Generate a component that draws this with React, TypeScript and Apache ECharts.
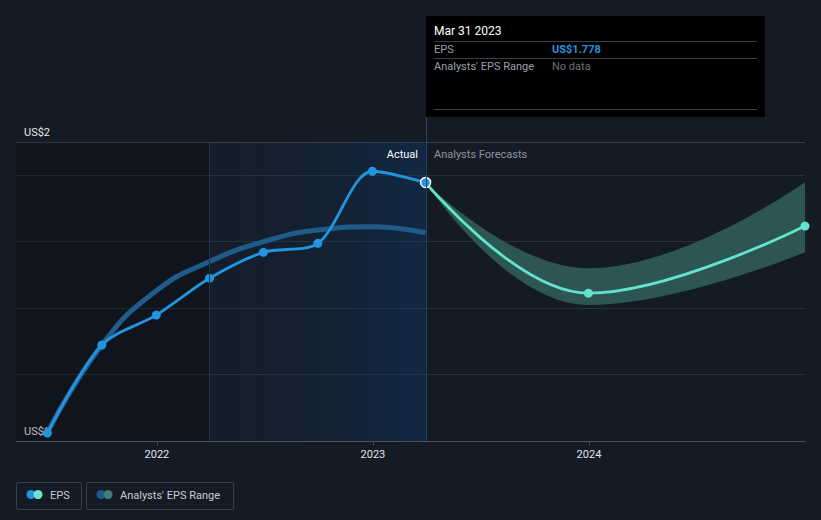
import React, { useEffect, useRef } from "react";
import * as echarts from "echarts";

const epsDates = ["2021-06-30", "2021-09-30", "2021-12-31", "2022-03-31", "2022-06-30", "2022-09-30", "2022-12-31", "2023-03-31"];
const epsValues = [1.024, 1.289, 1.379, 1.49, 1.568, 1.595, 1.812, 1.778];
const consensusValues = [1.024, 1.289, 1.452, 1.54, 1.6, 1.635, 1.645, 1.627];
const forecastDates = ["2023-03-31", "2023-12-31", "2024-12-31"];
const forecastValues = [1.778, 1.445, 1.647];
const forecastLow = [1.778, 1.409, 1.568];
const forecastHigh = [1.778, 1.52, 1.779];
const xMin = "2021-05-08";
const xMax = "2024-12-31";
const pastStart = "2022-03-31";
const tooltipTitle = "Mar 31 2023";
const legendNames = ["EPS", "Analysts' EPS Range"];

const FONT = "Roboto, 'Noto Sans', sans-serif";

export default function App() {
  const ref = useRef<HTMLDivElement>(null);
  useEffect(() => {
    document.body.style.margin = "0";
    const chart = echarts.init(ref.current!, null, { renderer: "svg" });
    const lastDate = epsDates[epsDates.length - 1];
    const lastVal = epsValues[epsValues.length - 1];
    chart.setOption({
      animation: false,
      backgroundColor: "#151b25",
      grid: { left: 16, right: 16, top: 142, bottom: 79 },
      xAxis: {
        type: "time",
        min: xMin,
        max: xMax,
        minInterval: 365 * 86400000,
        maxInterval: 366 * 86400000,
        axisLine: { lineStyle: { color: "#4b515a", width: 1 } },
        axisTick: { show: true, length: 4, lineStyle: { color: "#4b515a" } },
        splitLine: { show: false },
        axisLabel: {
          color: "#e2e4e8",
          fontSize: 11,
          fontFamily: FONT,
          margin: 8,
          formatter: (v: number) => {
            const d = new Date(v);
            return d.getMonth() === 0 && d.getDate() === 1 ? String(d.getFullYear()) : "";
          },
        },
      },
      yAxis: {
        type: "value",
        min: 1,
        max: 1.9,
        interval: 0.2,
        axisLine: { show: false },
        axisTick: { show: false },
        splitLine: {
          lineStyle: { color: ["#2a3039", "#2a3039", "#2a3039", "#2a3039", "#2a3039", "#3b4048"], width: 1 },
        },
        axisLabel: {
          inside: true,
          margin: 8,
          showMinLabel: true,
          showMaxLabel: true,
          verticalAlign: "bottom",
          padding: [0, 0, 4, 0],
          color: "#e6e8ec",
          fontSize: 11,
          fontFamily: FONT,
          formatter: (v: number) => (v > 1.85 ? "US$2" : v < 1.05 ? "US$1" : ""),
        },
      },
      series: [
        {
          type: "line",
          name: "bg",
          silent: true,
          data: epsDates.map((d, i) => [d, epsValues[i]]),
          symbol: "none",
          lineStyle: { opacity: 0 },
          z: 0,
          markArea: {
            silent: true,
            data: [
              [{ xAxis: xMin, itemStyle: { color: "rgba(0,0,0,0.2)" } }, { xAxis: pastStart }],
              [
                {
                  xAxis: pastStart,
                  itemStyle: {
                    color: new echarts.graphic.LinearGradient(0, 0, 1, 0, [
                      { offset: 0, color: "rgba(12,60,110,0.06)" },
                      { offset: 0.6, color: "rgba(12,60,110,0.2)" },
                      { offset: 1, color: "rgba(12,60,110,0.42)" },
                    ]),
                  },
                },
                { xAxis: lastDate },
              ],
            ],
          },
          markLine: {
            silent: true,
            symbol: "none",
            label: { show: false },
            lineStyle: { color: "#1b3550", type: "solid", width: 1 },
            data: [{ xAxis: pastStart }],
          },
        },
        {
          type: "line",
          name: "low",
          stack: "band",
          silent: true,
          data: forecastDates.map((d, i) => [d, forecastLow[i]]),
          smooth: 0.45,
          symbol: "none",
          lineStyle: { opacity: 0 },
          z: 1,
        },
        {
          type: "line",
          name: legendNames[1],
          stack: "band",
          silent: true,
          data: forecastDates.map((d, i) => [d, forecastHigh[i] - forecastLow[i]]),
          smooth: 0.45,
          symbol: "none",
          lineStyle: { opacity: 0 },
          areaStyle: { color: "#2c5554", opacity: 1 },
          z: 1,
        },
        {
          type: "line",
          name: "consensus",
          silent: true,
          data: epsDates.map((d, i) => [d, consensusValues[i]]),
          smooth: 0.5,
          symbol: "none",
          lineStyle: { color: "#1f5c8a", width: 5 },
          z: 2,
        },
        {
          type: "line",
          name: "forecast",
          data: forecastDates.map((d, i) => ({
            value: [d, forecastValues[i]],
            symbolSize: i === 0 ? 0 : 9,
          })),
          smooth: 0.4,
          symbol: "circle",
          showAllSymbol: true,
          lineStyle: { color: "#63e2cd", width: 2.8 },
          itemStyle: { color: "#63e2cd" },
          z: 3,
        },
        {
          type: "line",
          name: legendNames[0],
          data: epsDates.map((d, i) =>
            i === epsDates.length - 1
              ? { value: [d, epsValues[i]], symbolSize: 10, itemStyle: { color: "#2394df", borderColor: "#ffffff", borderWidth: 1.5 } }
              : { value: [d, epsValues[i]] }
          ),
          smooth: 0.3,
          symbol: "circle",
          symbolSize: 9,
          showAllSymbol: true,
          lineStyle: { color: "#2394df", width: 2.8 },
          itemStyle: { color: "#2394df" },
          z: 4,
        },
      ],
    });

    const [lx] = chart.convertToPixel({ gridIndex: 0 }, [lastDate, lastVal]) as number[];
    const [, topY] = chart.convertToPixel({ gridIndex: 0 }, [lastDate, 1.9]) as number[];
    const [, botY] = chart.convertToPixel({ gridIndex: 0 }, [lastDate, 1]) as number[];
    const tx = Math.round(lx);
    const tipRight = tx + 339;
    const divider = (y: number) => ({
      type: "line",
      z: 30,
      shape: { x1: tx + 8, y1: y, x2: tipRight - 8, y2: y },
      style: { stroke: "#3a3e45", lineWidth: 1 },
    });
    const txt = (text: string, x: number, y: number, fill: string, extra: any = {}) => ({
      type: "text",
      z: 30,
      style: { text, x, y, fill, fontSize: 11, fontFamily: FONT, verticalAlign: "middle", ...extra },
    });

    chart.setOption({
      graphic: [
        {
          type: "line",
          z: 5,
          shape: { x1: tx + 0.5, y1: 117, x2: tx + 0.5, y2: botY },
          style: { stroke: "#1d4668", lineWidth: 1 },
        },
        { type: "rect", z: 20, shape: { x: tx, y: 16, width: 339, height: 101 }, style: { fill: "#000000" } },
        txt(tooltipTitle, tx + 8, 31, "#ffffff", { fontSize: 12, fontWeight: "normal" }),
        divider(41.5),
        txt(legendNames[0], tx + 8, 49, "#9aa0a8"),
        txt("US$" + lastVal.toFixed(3), tx + 126, 49, "#2394df", { fontWeight: "bold" }),
        divider(58.5),
        txt(legendNames[1], tx + 8, 66, "#9aa0a8"),
        txt("No data", tx + 126, 66, "#6d727a"),
        divider(109.5),
        txt("Actual", tx - 8, topY + 12, "#ffffff", { align: "right" }),
        txt("Analysts Forecasts", tx + 8, topY + 12, "#8d939b"),
        // legend
        { type: "rect", z: 30, shape: { x: 16.5, y: 482.5, width: 65, height: 27, r: 2 }, style: { fill: "none", stroke: "#3a4049", lineWidth: 1 } },
        { type: "circle", z: 30, shape: { cx: 31, cy: 494.5, r: 4.5 }, style: { fill: "#2394df" } },
        { type: "circle", z: 31, shape: { cx: 38, cy: 494.5, r: 4.5 }, style: { fill: "#6de3d0" } },
        txt(legendNames[0], 50, 495, "#c9ccd2", { fontSize: 11 }),
        { type: "rect", z: 30, shape: { x: 86.5, y: 482.5, width: 147, height: 27, r: 2 }, style: { fill: "none", stroke: "#3a4049", lineWidth: 1 } },
        { type: "circle", z: 30, shape: { cx: 101, cy: 494.5, r: 4.5 }, style: { fill: "#1f5a86" } },
        { type: "circle", z: 31, shape: { cx: 108, cy: 494.5, r: 4.5 }, style: { fill: "#3e7f7b" } },
        txt(legendNames[1], 120, 495, "#c9ccd2", { fontSize: 11 }),
      ],
    });
    return () => chart.dispose();
  }, []);
  return <div ref={ref} style={{ width: 821, height: 520 }} />;
}
